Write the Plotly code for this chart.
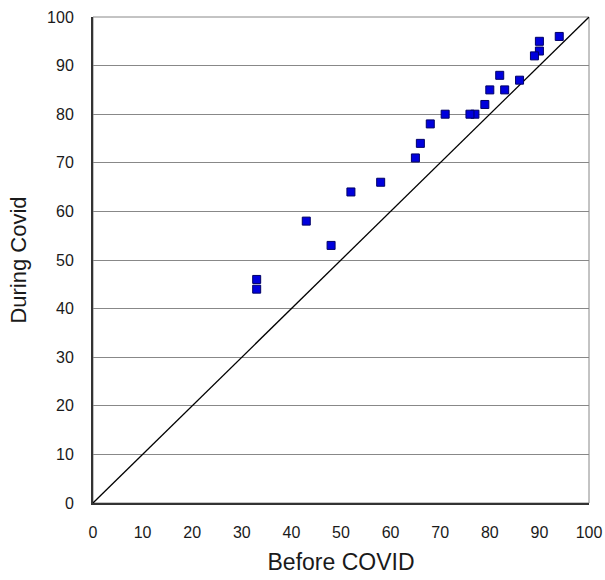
import plotly.graph_objects as go

before = [94, 90, 90, 89, 86, 82, 83, 80, 79, 77, 76, 71, 68, 66, 65, 58, 52, 43, 48, 33, 33]
during = [96, 95, 93, 92, 87, 88, 85, 85, 82, 80, 80, 80, 78, 74, 71, 66, 64, 58, 53, 46, 44]
line_x = [0, 100]
line_y = [0, 100]
ticks = list(range(0, 101, 10))

fig = go.Figure()
fig.add_trace(go.Scatter(x=line_x, y=line_y, mode="lines",
                         line=dict(color="black", width=1.3), hoverinfo="skip"))
fig.add_trace(go.Scatter(x=before, y=during, mode="markers",
                         marker=dict(symbol="square", size=8, color="#0000DD",
                                     line=dict(color="#000066", width=1))))

fig.add_shape(type="rect", xref="paper", yref="paper", x0=0, y0=0, x1=1, y1=1,
              line=dict(color="#888", width=1), layer="below")

fig.update_layout(
    width=605, height=580,
    margin=dict(l=93, r=16, t=17, b=77),
    paper_bgcolor="white", plot_bgcolor="white",
    showlegend=False,
    font=dict(family="Liberation Sans, Arial, sans-serif", color="#1a1a1a", size=16),
)
fig.update_xaxes(range=[0, 100], tickvals=ticks, showgrid=False, zeroline=False,
                 showline=True, linecolor="#333", linewidth=2, mirror=False,
                 ticks="", ticklabelstandoff=14, automargin=False,
                 tickfont=dict(size=16),
                 title=dict(text="Before COVID", font=dict(size=23), standoff=14))
fig.update_yaxes(range=[0, 100], tickvals=ticks, showgrid=True, gridcolor="#888",
                 gridwidth=1, zeroline=False,
                 showline=True, linecolor="#333", linewidth=2, mirror=False,
                 ticks="", ticklabelstandoff=14, automargin=False,
                 tickfont=dict(size=16),
                 title=dict(text="During Covid", font=dict(size=22), standoff=14))

fig.write_html("out.html")
